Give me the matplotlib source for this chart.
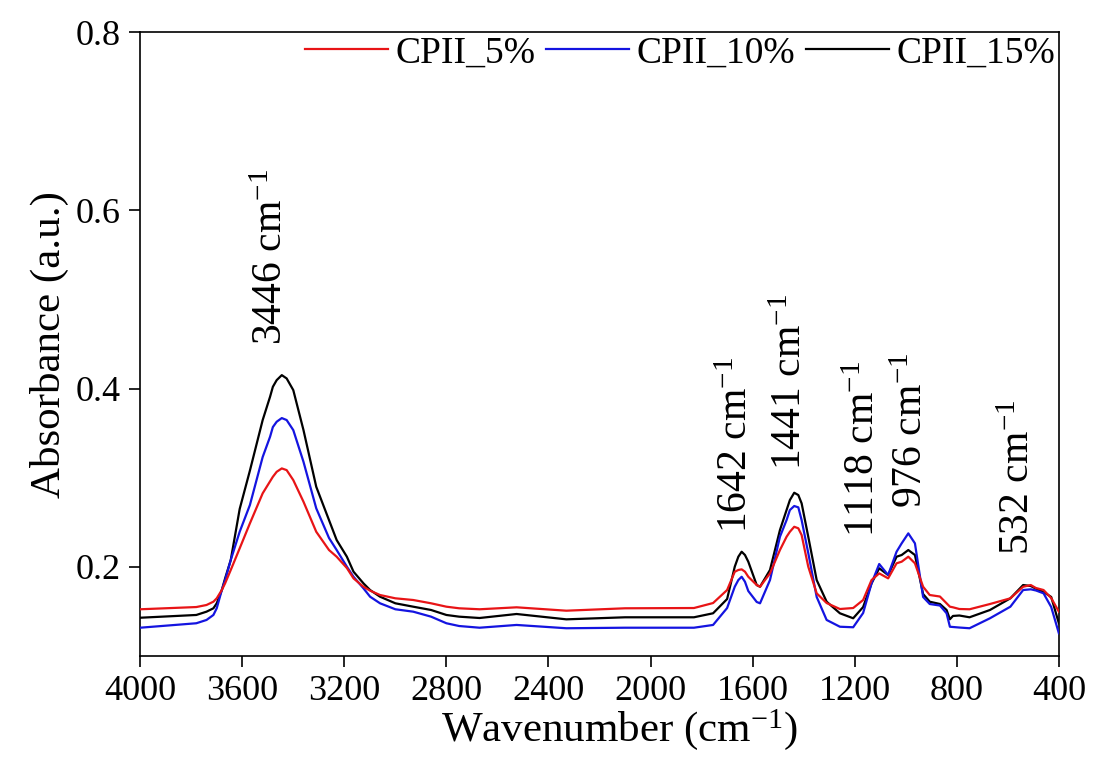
import matplotlib
matplotlib.use('Agg')
import matplotlib.pyplot as plt

plt.rcParams['font.family'] = ['Liberation Serif', 'DejaVu Serif']
plt.rcParams['mathtext.fontset'] = 'custom'
plt.rcParams['mathtext.rm'] = 'Liberation Serif'
plt.rcParams['mathtext.it'] = 'Liberation Serif:italic'

# wavenumber grid (cm-1)
wavenumber = [4000, 3780, 3740, 3713, 3700, 3680, 3667, 3645, 3610, 3570,
              3520, 3491, 3480, 3465, 3445, 3426, 3400, 3360, 3310, 3260,
              3230, 3190, 3164, 3125, 3099, 3060, 3000, 2930, 2860, 2800,
              2750, 2670, 2525, 2330, 2100, 1830, 1755, 1700, 1670, 1656,
              1643, 1630, 1617, 1584, 1571, 1532, 1493, 1467, 1454, 1437,
              1421, 1408, 1382, 1349, 1310, 1258, 1206, 1167, 1134, 1104,
              1069, 1036, 1016, 990, 964, 932, 906, 866, 840, 827,
              815, 790, 750, 670, 590, 540, 510, 490, 460, 430,
              400]

cpii_5 = [0.1524, 0.1549, 0.1572, 0.1609, 0.1647, 0.1740, 0.1816, 0.1965, 0.2208, 0.2488,
          0.2825, 0.2960, 0.3011, 0.3067, 0.3105, 0.3086, 0.2974, 0.2731, 0.2394, 0.2189,
          0.2114, 0.1987, 0.1871, 0.1777, 0.1733, 0.1684, 0.1647, 0.1628, 0.1591, 0.1553,
          0.1535, 0.1524, 0.1546, 0.1508, 0.1535, 0.1538, 0.1594, 0.1740, 0.1945, 0.1965,
          0.1972, 0.1946, 0.1889, 0.1796, 0.1777, 0.1927, 0.2189, 0.2338, 0.2394, 0.2450,
          0.2433, 0.2357, 0.2002, 0.1703, 0.1594, 0.1527, 0.1538, 0.1628, 0.1852, 0.1927,
          0.1871, 0.2040, 0.2058, 0.2114, 0.2040, 0.1777, 0.1684, 0.1667, 0.1591, 0.1553,
          0.1546, 0.1527, 0.1524, 0.1583, 0.1647, 0.1777, 0.1796, 0.1763, 0.1740, 0.1650,
          0.1497]

cpii_10 = [0.1317, 0.1367, 0.1404, 0.1460, 0.1535, 0.1740, 0.1853, 0.2077, 0.2394, 0.2694,
           0.3232, 0.3460, 0.3569, 0.3629, 0.3670, 0.3648, 0.3535, 0.3179, 0.2657, 0.2324,
           0.2189, 0.2002, 0.1889, 0.1759, 0.1665, 0.1591, 0.1524, 0.1497, 0.1441, 0.1367,
           0.1336, 0.1317, 0.1348, 0.1311, 0.1317, 0.1317, 0.1348, 0.1538, 0.1777, 0.1852,
           0.1889, 0.1833, 0.1729, 0.1606, 0.1591, 0.1852, 0.2338, 0.2525, 0.2638, 0.2683,
           0.2668, 0.2525, 0.2155, 0.1662, 0.1404, 0.1328, 0.1322, 0.1482, 0.1815, 0.2032,
           0.1908, 0.2170, 0.2264, 0.2376, 0.2264, 0.1662, 0.1583, 0.1566, 0.1479, 0.1328,
           0.1325, 0.1319, 0.1311, 0.1423, 0.1553, 0.1740, 0.1748, 0.1735, 0.1703, 0.1549,
           0.1255]

cpii_15 = [0.1429, 0.1460, 0.1497, 0.1535, 0.1591, 0.1740, 0.1872, 0.2077, 0.2650, 0.3080,
           0.3647, 0.3909, 0.4021, 0.4096, 0.4152, 0.4115, 0.3984, 0.3535, 0.2899, 0.2525,
           0.2301, 0.2114, 0.1946, 0.1815, 0.1740, 0.1665, 0.1591, 0.1553, 0.1516, 0.1460,
           0.1441, 0.1426, 0.1471, 0.1411, 0.1434, 0.1434, 0.1479, 0.1639, 0.2002, 0.2114,
           0.2170, 0.2133, 0.2058, 0.1796, 0.1777, 0.1965, 0.2413, 0.2638, 0.2750, 0.2832,
           0.2806, 0.2713, 0.2338, 0.1852, 0.1609, 0.1479, 0.1423, 0.1549, 0.1815, 0.1984,
           0.1908, 0.2114, 0.2133, 0.2189, 0.2133, 0.1695, 0.1609, 0.1583, 0.1516, 0.1412,
           0.1449, 0.1454, 0.1434, 0.1516, 0.1647, 0.1796, 0.1785, 0.1755, 0.1718, 0.1662,
           0.1367]

series_labels = ['CPII_5%', 'CPII_10%', 'CPII_15%']
series_colors = ['#e81416', '#1414e0', '#000000']

# peak labels: text, x position, bottom of text
peak_labels = ['3446 cm$^{-1}$', '1642 cm$^{-1}$', '1441 cm$^{-1}$',
               '1118 cm$^{-1}$', '976 cm$^{-1}$', '532 cm$^{-1}$']
peak_x = [3485, 1662, 1450, 1165, 978, 557]
peak_y = [0.449, 0.238, 0.309, 0.234, 0.266, 0.213]

fig, ax = plt.subplots(figsize=(10.95, 7.69), dpi=100)
fig.subplots_adjust(left=0.128, right=0.967, top=0.958, bottom=0.147)

for vals, lab, col, z in zip([cpii_5, cpii_10, cpii_15], series_labels, series_colors, [4, 3, 2]):
    ax.plot(wavenumber, vals, color=col, linewidth=1.6, label=lab, zorder=z)

for txt, px, py in zip(peak_labels, peak_x, peak_y):
    ax.text(px, py, txt, rotation=90, ha='center', va='bottom', fontsize=30)

ax.set_xlim(4000, 400)
ax.set_ylim(0.1, 0.8)
ax.set_xticks([4000, 3600, 3200, 2800, 2400, 2000, 1600, 1200, 800, 400])
ax.set_yticks([0.2, 0.4, 0.6, 0.8])
ax.tick_params(axis='both', direction='out', length=8, width=1.2, labelsize=26, pad=6,
               top=False, right=False)
for sp in ax.spines.values():
    sp.set_linewidth(1.2)

ax.set_xlabel('Wavenumber (cm$^{-1}$)', fontsize=31, labelpad=-1)
ax.xaxis.label.set_x(0.522)
ax.set_ylabel('Absorbance (a.u.)', fontsize=31, labelpad=5)

ax.legend(loc='upper right', bbox_to_anchor=(1.0, 1.0), ncol=3, frameon=False,
          fontsize=27, handlelength=2.2, handletextpad=0.2, columnspacing=0.3,
          borderpad=0.1, borderaxespad=0.0)

plt.savefig('out.png', dpi=100)
plt.close()
